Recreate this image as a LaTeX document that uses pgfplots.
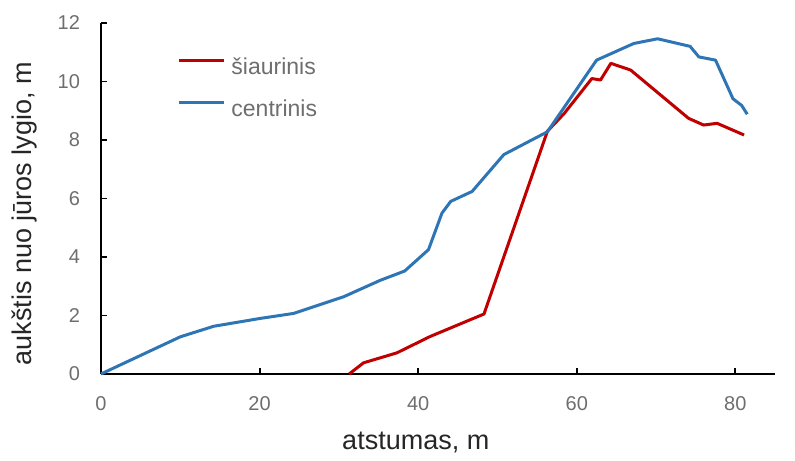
\documentclass[border=0pt]{standalone}
\usepackage{fontspec}
\setmainfont{Liberation Sans}
\usepackage{pgfplots}
\pgfplotsset{compat=1.18}

\definecolor{rdline}{HTML}{C00000}
\definecolor{blline}{HTML}{2E75B6}
\definecolor{tickgray}{HTML}{6E6E6E}
\definecolor{labdark}{HTML}{262626}

\begin{document}
\begin{tikzpicture}
  \begin{axis}[
    scale only axis,
    width=337pt,
    height=175.5pt,
    xmin=0, xmax=85,
    ymin=0, ymax=12,
    clip=false,
    xtick={0,20,40,60,80},
    ytick={0,2,4,6,8,10,12},
    axis x line=bottom,
    axis y line=left,
    axis line style={-, line width=0.9pt, black},
    tick style={line width=0.9pt, black},
    tick align=inside,
    major tick length=3pt,
    /pgf/number format/assume math mode=true,
    ticklabel style={font=\fontsize{10}{12}\selectfont, text=tickgray},
    xticklabel style={yshift=-8pt},
    yticklabel style={xshift=-7pt},
    xlabel={atstumas, m},
    ylabel={aukštis nuo jūros lygio, m},
    label style={font=\fontsize{13.5}{16}\selectfont, text=labdark},
    xlabel style={at={(axis description cs:0.467,-0.2165)}, anchor=base},
    ylabel style={at={(axis description cs:-0.113,0.456)}, anchor=center},
    legend cell align=left,
    legend image code/.code={\draw[#1] (0pt,3.5pt) -- (22.5pt,3.5pt);},
    legend style={
      draw=none, fill=none, inner sep=0pt,
      at={(axis description cs:0.1128,0.812)}, anchor=west,
      font=\fontsize{11.5}{14}\selectfont, text=tickgray,
      nodes={inner sep=0pt, text height=8.5pt, text depth=2pt},
      column sep=3pt, row sep=10.5pt,
    },
  ]

  % šiaurinis
  \addplot[rdline, line width=1.5pt, line join=round] coordinates {
    (31.3,0) (33.1,0.38) (37.3,0.72) (41.5,1.28) (48.3,2.05)
    (56.3,8.3) (58.4,8.9) (61.9,10.1) (63.0,10.05) (64.3,10.62)
    (66.8,10.39) (74.1,8.74) (76.0,8.51) (77.7,8.57) (81.1,8.17)
  };
  \addlegendentry{šiaurinis}

  % centrinis
  \addplot[blline, line width=1.5pt, line join=round] coordinates {
    (0,0) (10,1.27) (14.2,1.63) (20.1,1.9) (24.3,2.07) (30.6,2.64)
    (35.2,3.2) (38.3,3.52) (41.3,4.25) (43.0,5.5) (44.1,5.9)
    (46.8,6.24) (50.8,7.5) (56.3,8.28) (62.5,10.73) (67.2,11.3)
    (70.2,11.46) (74.3,11.2) (75.4,10.84) (77.5,10.73) (79.7,9.41)
    (80.8,9.18) (81.5,8.88)
  };
  \addlegendentry{centrinis}

  % Rand wie im Original
  \path (axis description cs:-0.1499,-0.2308) rectangle (axis description cs:1.0297,1.0655);

  \end{axis}
\end{tikzpicture}
\end{document}
